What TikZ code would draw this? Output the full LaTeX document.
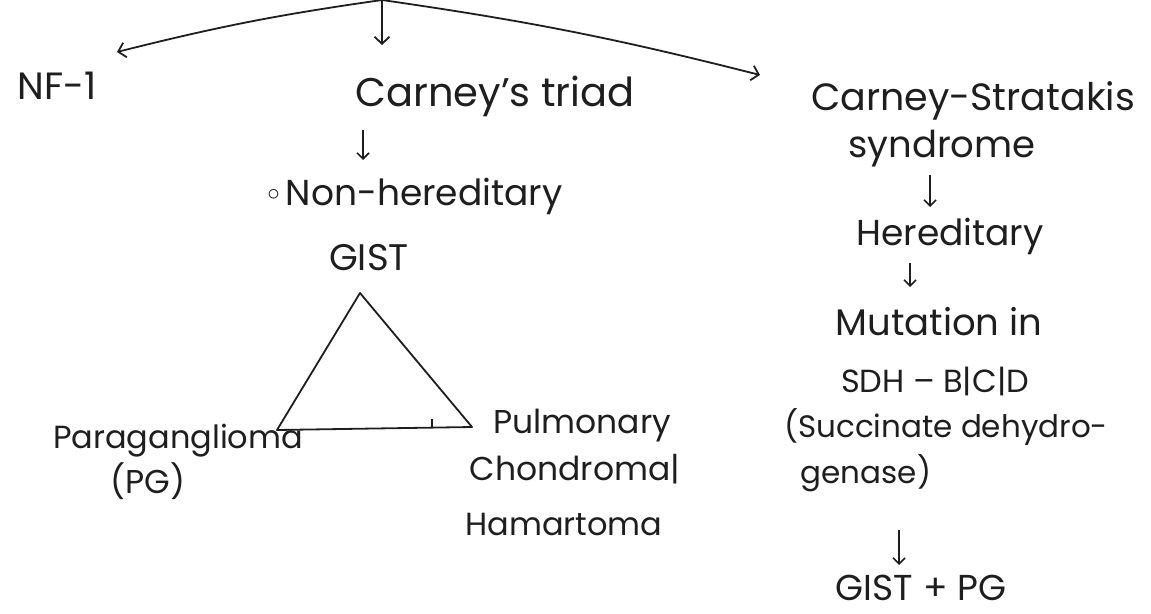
\documentclass[tikz,border=0pt]{standalone}
\usepackage{fontspec}
\setmainfont{Poppins}
\usetikzlibrary{arrows.meta,calc}
\definecolor{ink}{RGB}{30,30,30}
\begin{document}
\begin{tikzpicture}[x=1pt,y=-1pt,
  lbl/.style={font=\fontsize{#1}{#1}\selectfont, inner sep=0pt, anchor=base, text=ink},
  lbl/.default=34,
  arr/.style={draw=ink, line width=1.8pt, -{Straight Barb[length=7pt,width=15pt]}},
  sarr/.style={draw=ink, line width=1.6pt, -{Straight Barb[length=6pt,width=12pt]}},
  edge/.style={draw=ink, line width=1.8pt}]
\useasboundingbox (0,0) rectangle (1151,613);
% top
\coordinate (top) at (382,0);
\coordinate (nfa) at (117,52);
\coordinate (csa) at (760,75);
\coordinate (cta) at (382,45);
% nodes
\node[lbl=38] (nf) at (57,99) {NF-1};
\node[lbl=40] (ct) at (495,106) {Carney's triad};
\node[lbl=38] (cs1) at (973,110) {Carney-Stratakis};
\node[lbl=37] (cs2) at (942,157) {syndrome};
\node[lbl=36] (her) at (950,245) {Hereditary};
\node[lbl=37] (mut) at (939,335) {Mutation in};
\node[lbl=32] (sdh) at (935,392) {SDH – B|C|D};
\node[lbl=31] (succ) at (946,437) {(Succinate dehydro-};
\node[lbl=31] (gen) at (866,483) {genase)};
\node[lbl=36] (gp) at (921,600) {GIST + PG};
\node[lbl=36] (nh) at (415,205) {\raisebox{5pt}{$\circ$}\,Non-hereditary};
\node[lbl=37] (gist) at (369,270) {GIST};
\node[lbl=32] (para) at (178,448) {Paraganglioma};
\node[lbl=33] (pg) at (148,493) {(PG)};
\node[lbl=33] (pul) at (582,433) {Pulmonary};
\node[lbl=33] (cho) at (575,480) {Chondroma|};
\node[lbl=32] (ham) at (564,535) {Hamartoma};
% triangle
\coordinate (apex) at (360,293);
\coordinate (bl) at (277,430);
\coordinate (br) at (472,427);
\coordinate (tk) at (432,419);
\draw[edge, line join=round] (apex) -- (bl) -- (br) -- cycle;
\draw[edge, line width=1.2pt] (tk) -- (tk |- br);
% arrows from the top
\draw[arr] (top) to[bend right=3] (nfa);
\draw[arr] (top) -- (cta);
\draw[arr] (top) to[bend left=3] (csa);
% small down arrows
\coordinate (x1) at (363,0);
\coordinate (x2) at (930,0);
\coordinate (x3) at (910,0);
\coordinate (x4) at (899,0);
\draw[sarr] ($(ct.base -| x1)+(0,24)$) -- ($(nh.base -| x1)+(0,-45)$);
\draw[sarr] ($(cs2.base -| x2)+(0,18)$) -- ($(her.base -| x2)+(0,-38)$);
\draw[sarr] ($(her.base -| x3)+(0,18)$) -- ($(mut.base -| x3)+(0,-48)$);
\draw[sarr] ($(gen.base -| x4)+(0,47)$) -- ($(gp.base -| x4)+(0,-35)$);
\end{tikzpicture}
\end{document}
